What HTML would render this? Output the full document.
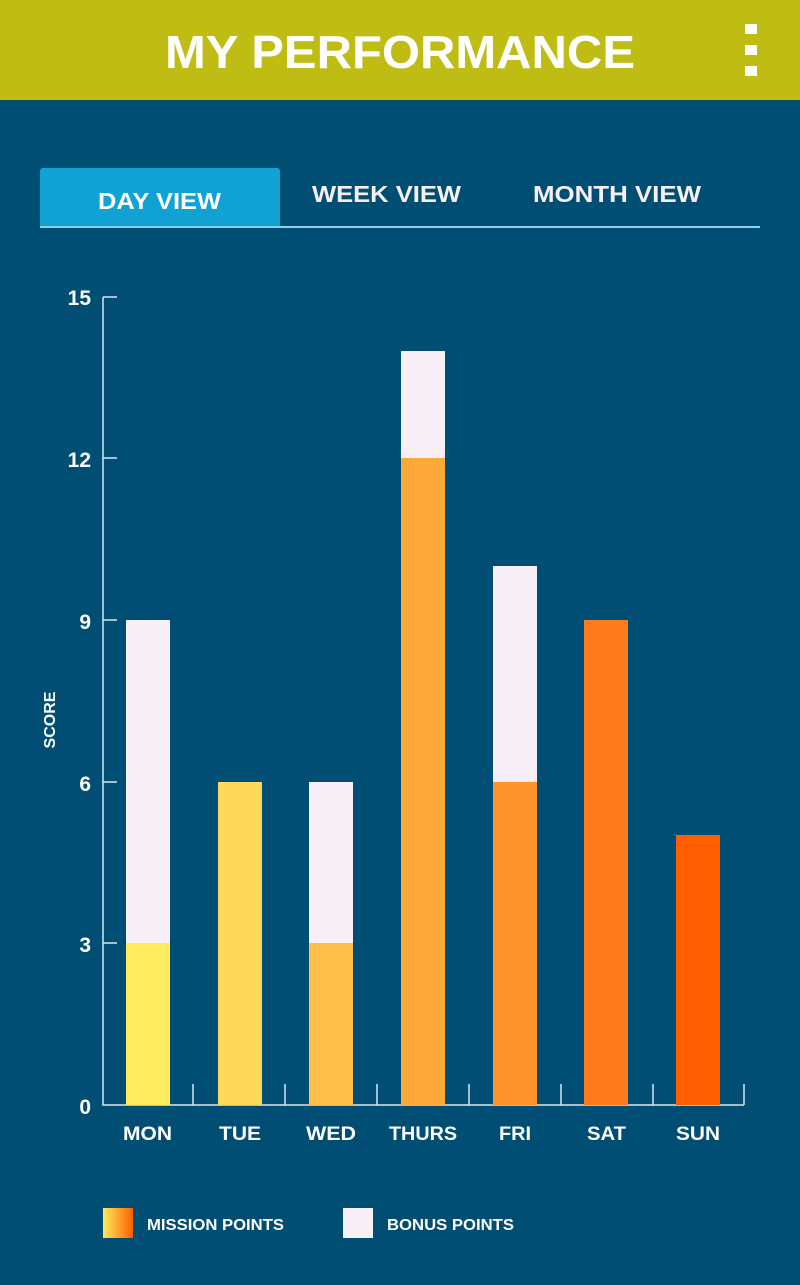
<!DOCTYPE html>
<html><head><meta charset="utf-8"><style>
html,body{margin:0;padding:0}
body{width:800px;height:1280px;background:#004E73;overflow:hidden;font-family:"Liberation Sans",sans-serif}
</style></head><body>
<svg width="800" height="1280" xmlns="http://www.w3.org/2000/svg" font-family="Liberation Sans, sans-serif" font-weight="bold">
<defs><linearGradient id="g" x1="0" x2="1"><stop offset="0" stop-color="#FFEB5E"/><stop offset="1" stop-color="#FF5F00"/></linearGradient></defs>
<rect x="0" y="0" width="800" height="100" fill="#BFBC13"/>
<text x="165" y="68" fill="#fff" font-size="46" textLength="470" lengthAdjust="spacingAndGlyphs">MY PERFORMANCE</text>
<rect x="745" y="24" width="12" height="10" fill="#fff"/><rect x="745" y="45" width="12" height="10" fill="#fff"/><rect x="745" y="66" width="12" height="10" fill="#fff"/>
<rect x="40" y="168" width="240" height="60" rx="3" fill="#10A2D2"/>
<rect x="40" y="226" width="720" height="2" fill="#8FCDE8"/>
<text x="98" y="209" fill="#fff" font-size="23" textLength="123" lengthAdjust="spacingAndGlyphs">DAY VIEW</text>
<text x="312" y="202" fill="#F8F0F6" font-size="23" textLength="149" lengthAdjust="spacingAndGlyphs">WEEK VIEW</text>
<text x="533" y="202" fill="#F8F0F6" font-size="23" textLength="168" lengthAdjust="spacingAndGlyphs">MONTH VIEW</text>
<g fill="#fff" font-size="21" text-anchor="end">
<text x="91" y="305">15</text><text x="91" y="467">12</text><text x="91" y="629">9</text><text x="91" y="791">6</text><text x="91" y="952">3</text><text x="91" y="1114">0</text></g>
<text transform="translate(55,720) rotate(-90)" text-anchor="middle" fill="#fff" font-size="16">SCORE</text>
<g stroke="#D8E6EE" stroke-width="1.5" fill="none">
<path d="M103 297V1105H744"/>
<path d="M103 297h14M103 458h14M103 620h14M103 782h14M103 943h14"/>
<path d="M193 1084v21M285 1084v21M377 1084v21M469 1084v21M561 1084v21M653 1084v21M744 1084v21"/>
</g>
<g>
<rect x="126" y="620" width="44" height="323" fill="#F8F0F6"/><rect x="126" y="943" width="44" height="162" fill="#FFEB5E"/>
<rect x="218" y="782" width="44" height="323" fill="#FFD85A"/>
<rect x="309" y="782" width="44" height="161" fill="#F8F0F6"/><rect x="309" y="943" width="44" height="162" fill="#FFBF4A"/>
<rect x="401" y="351" width="44" height="107" fill="#F8F0F6"/><rect x="401" y="458" width="44" height="647" fill="#FFA83A"/>
<rect x="493" y="566" width="44" height="216" fill="#F8F0F6"/><rect x="493" y="782" width="44" height="323" fill="#FF942E"/>
<rect x="584" y="620" width="44" height="485" fill="#FF7A1C"/>
<rect x="676" y="835" width="44" height="270" fill="#FF5F00"/>
</g>
<g fill="#fff" font-size="19">
<text x="123" y="1140" textLength="49" lengthAdjust="spacingAndGlyphs">MON</text>
<text x="219" y="1140" textLength="42" lengthAdjust="spacingAndGlyphs">TUE</text>
<text x="306" y="1140" textLength="50" lengthAdjust="spacingAndGlyphs">WED</text>
<text x="389" y="1140" textLength="68" lengthAdjust="spacingAndGlyphs">THURS</text>
<text x="499" y="1140" textLength="32" lengthAdjust="spacingAndGlyphs">FRI</text>
<text x="587" y="1140" textLength="39" lengthAdjust="spacingAndGlyphs">SAT</text>
<text x="676" y="1140" textLength="44" lengthAdjust="spacingAndGlyphs">SUN</text></g>
<rect x="103" y="1208" width="30" height="30" fill="url(#g)"/>
<rect x="343" y="1208" width="30" height="30" fill="#F8F0F6"/>
<text x="147" y="1230" fill="#fff" font-size="16" textLength="137" lengthAdjust="spacingAndGlyphs">MISSION POINTS</text>
<text x="387" y="1230" fill="#fff" font-size="16" textLength="127" lengthAdjust="spacingAndGlyphs">BONUS POINTS</text>
</svg>
</body></html>
